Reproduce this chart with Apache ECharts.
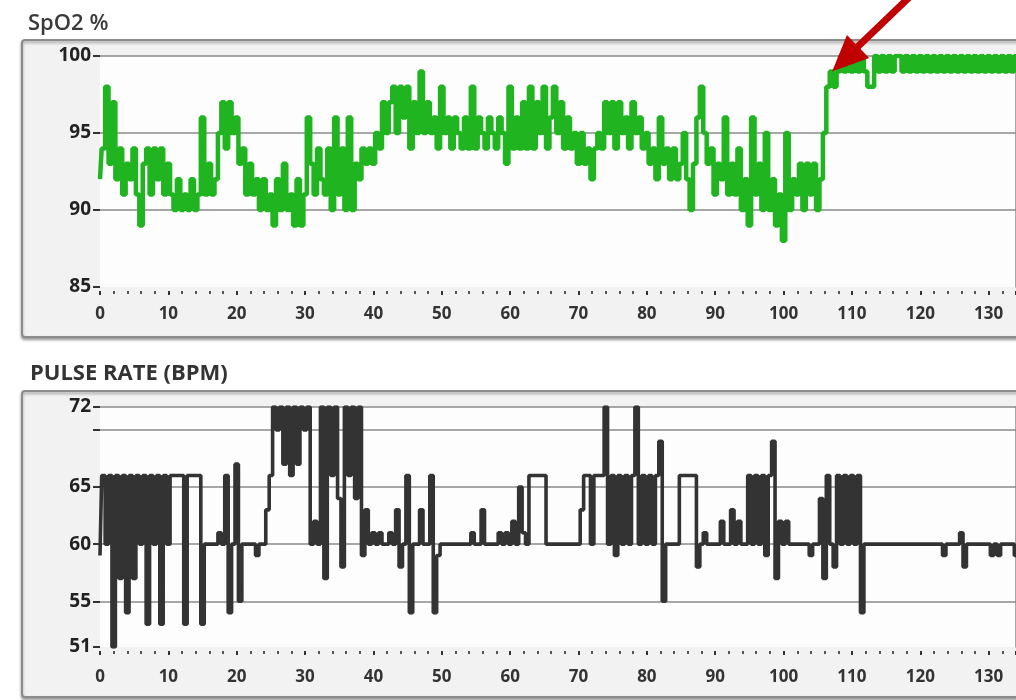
<!DOCTYPE html>
<html>
<head>
<meta charset="utf-8">
<title>SpO2 / Pulse rate</title>
<script src="https://cdn.jsdelivr.net/npm/echarts@6/dist/echarts.min.js"></script>
<style>
  html, body { margin: 0; padding: 0; background: #fff; }
  #chart { width: 1016px; height: 700px; }
</style>
</head>
<body>
<div id="chart"></div>
<script>
// one reading every half unit on the time axis, starting at 0
const sampleStep = 0.5

const spo2Values = [
  92, 94, 98, 93, 97, 92, 94, 91, 93, 92,
  94, 91, 89, 93, 94, 91, 94, 92, 94, 91,
  93, 91, 90, 92, 90, 91, 90, 92, 90, 91,
  96, 91, 93, 91, 92, 95, 97, 94, 97, 95,
  96, 93, 94, 91, 93, 91, 92, 90, 92, 90,
  91, 89, 92, 90, 93, 90, 91, 89, 92, 89,
  91, 96, 93, 91, 94, 92, 91, 94, 90, 96,
  91, 94, 90, 96, 90, 93, 92, 94, 93, 94,
  93, 95, 94, 97, 95, 97, 98, 95, 98, 96,
  98, 94, 97, 95, 99, 95, 97, 95, 96, 94,
  98, 95, 96, 94, 96, 95, 94, 96, 94, 98,
  94, 96, 95, 94, 96, 95, 94, 96, 95, 93,
  98, 94, 96, 94, 97, 94, 98, 94, 97, 95,
  98, 94, 96, 98, 95, 97, 94, 96, 94, 95,
  93, 95, 93, 94, 92, 94, 95, 94, 97, 95,
  97, 94, 97, 95, 96, 94, 97, 95, 96, 94,
  95, 93, 94, 92, 96, 93, 94, 92, 94, 92,
  93, 95, 92, 90, 93, 96, 98, 95, 93, 94,
  91, 93, 92, 96, 91, 93, 91, 94, 90, 92,
  89, 96, 91, 93, 90, 95, 90, 92, 89, 91,
  88, 95, 90, 92, 91, 93, 90, 93, 91, 93,
  90, 92, 95, 98, 99, 98, 99, 100, 99, 100,
  99, 100, 99, 100, 99, 98, 98, 100, 99, 100,
  99, 100, 99, 100, 100, 99, 100, 99, 100, 99,
  100, 99, 100, 99, 100, 99, 100, 99, 100, 99,
  100, 99, 100, 99, 100, 99, 100, 99, 100, 99,
  100, 99, 100, 99, 100, 99, 100, 99, 100
]

const pulseValues = [
  59, 66, 60, 66, 51, 66, 57, 66, 54, 66,
  57, 66, 60, 66, 53, 66, 60, 66, 53, 66,
  60, 66, 66, 66, 66, 53, 66, 66, 66, 66,
  53, 60, 60, 60, 60, 61, 60, 66, 54, 60,
  67, 55, 60, 60, 60, 60, 59, 60, 60, 63,
  66, 72, 70, 72, 67, 72, 66, 72, 67, 72,
  70, 72, 60, 62, 60, 72, 57, 72, 66, 72,
  64, 58, 72, 66, 72, 64, 72, 59, 63, 60,
  61, 60, 61, 60, 60, 61, 60, 63, 58, 60,
  66, 54, 60, 60, 63, 60, 60, 66, 54, 59,
  60, 60, 60, 60, 60, 60, 60, 60, 60, 61,
  60, 60, 63, 60, 60, 60, 60, 61, 60, 61,
  60, 62, 60, 65, 61, 60, 66, 66, 66, 66,
  66, 60, 60, 60, 60, 60, 60, 60, 60, 60,
  60, 63, 66, 66, 60, 66, 66, 66, 72, 60,
  66, 59, 66, 60, 66, 60, 66, 72, 60, 66,
  60, 66, 60, 66, 69, 55, 60, 60, 60, 60,
  66, 66, 66, 66, 66, 58, 60, 61, 60, 60,
  60, 60, 62, 60, 60, 63, 60, 62, 60, 60,
  66, 60, 66, 60, 66, 59, 66, 69, 57, 62,
  60, 62, 60, 60, 60, 60, 60, 60, 59, 60,
  60, 64, 57, 66, 60, 58, 66, 60, 66, 60,
  66, 60, 66, 54, 60, 60, 60, 60, 60, 60,
  60, 60, 60, 60, 60, 60, 60, 60, 60, 60,
  60, 60, 60, 60, 60, 60, 60, 59, 60, 60,
  60, 60, 61, 58, 60, 60, 60, 60, 60, 60,
  60, 59, 60, 59, 60, 60, 60, 60, 59
]

const timeRange = [0, 134]
const spo2Range = [85, 100]
const pulseRange = [51, 72]
const pulseLabels = [51, 55, 60, 65, 72]
const pulseTicks = [51, 55, 60, 65, 70, 72]

// red arrow pointing at the jump in SpO2 (time, %)
const arrowFrom = [121.4, 105.1]
const arrowTo = [107.1, 99.0]

const toPairs = values => values.map((v, i) => [i * sampleStep, v])

const font = 'Open Sans'
const labelStyle = { fontSize: 17, fontWeight: 'bold', color: '#333', fontFamily: font }
const panelStyle = {
  fill: '#f2f2f2', stroke: '#8c8c8c', lineWidth: 2,
  shadowBlur: 3, shadowOffsetY: 2, shadowColor: 'rgba(0,0,0,0.35)'
}

const xAxisFor = (gridIndex, margin) => ({
  type: 'value',
  gridIndex,
  min: timeRange[0],
  max: timeRange[1],
  interval: 10,
  offset: 4,
  axisLine: { show: false },
  axisTick: { show: true, length: 4, lineStyle: { color: '#333', width: 2 } },
  minorTick: { show: true, splitNumber: 5, length: 3, lineStyle: { color: '#555', width: 2 } },
  axisLabel: { ...labelStyle, margin, showMaxLabel: false },
  splitLine: { show: false }
})

// plain axis used only to draw the left edge of the plot
const frameAxis = (gridIndex, range) => ({
  type: 'value',
  gridIndex,
  min: range[0],
  max: range[1],
  axisLine: { show: true, lineStyle: { color: '#8a8a8a', width: 1.5 } },
  axisTick: { show: false },
  axisLabel: { show: false },
  splitLine: { show: false }
})

const chart = echarts.init(document.getElementById('chart'))

const option = {
  animation: false,
  backgroundColor: '#fff',
  graphic: [
    { id: 'panel1', type: 'rect', z: -10,
      shape: { x: 22, y: 40, width: 1010, height: 297, r: 3 }, style: panelStyle },
    { id: 'panel2', type: 'rect', z: -10,
      shape: { x: 22, y: 391, width: 1010, height: 306, r: 3 }, style: panelStyle }
  ],
  title: [
    { text: 'SpO2 %', left: 23, top: 8,
      textStyle: { fontSize: 22, fontWeight: 600, color: '#3a3a3a', fontFamily: font } },
    { text: 'PULSE RATE (BPM)', left: 25, top: 358,
      textStyle: { fontSize: 22, fontWeight: 'bold', color: '#333', fontFamily: font } }
  ],
  grid: [
    { left: 100, top: 56, right: 0, height: 231, show: true, backgroundColor: '#fdfdfd', borderWidth: 0 },
    { left: 100, top: 407, right: 0, height: 240, show: true, backgroundColor: '#fdfdfd', borderWidth: 0 }
  ],
  xAxis: [xAxisFor(0, 15), xAxisFor(1, 18)],
  yAxis: [
    {
      type: 'value',
      gridIndex: 0,
      min: spo2Range[0],
      max: spo2Range[1],
      interval: 5,
      offset: 6,
      axisLine: { show: false },
      axisTick: { show: true, length: 7, lineStyle: { color: '#333', width: 2 } },
      axisLabel: { ...labelStyle, fontSize: 19, color: '#222', margin: 3 },
      splitLine: { show: true, showMinLine: false, lineStyle: { color: '#8a8a8a', width: 1.5 } }
    },
    frameAxis(0, spo2Range),
    {
      type: 'value',
      gridIndex: 1,
      min: pulseRange[0],
      max: pulseRange[1],
      offset: 6,
      axisLine: { show: false },
      axisTick: { show: true, length: 7, customValues: pulseTicks, lineStyle: { color: '#333', width: 2 } },
      axisLabel: { ...labelStyle, fontSize: 19, color: '#222', margin: 3, customValues: pulseLabels },
      splitLine: { show: true, showMinLine: false, lineStyle: { color: '#8a8a8a', width: 1.5 } }
    },
    frameAxis(1, pulseRange)
  ],
  series: [
    {
      name: 'SpO2',
      type: 'line',
      xAxisIndex: 0,
      yAxisIndex: 0,
      step: 'middle',
      showSymbol: false,
      lineStyle: { color: '#20b420', width: 4.5 },
      itemStyle: { color: '#20b420' },
      data: toPairs(spo2Values)
    },
    {
      name: 'Pulse rate',
      type: 'line',
      xAxisIndex: 1,
      yAxisIndex: 2,
      step: 'middle',
      showSymbol: false,
      lineStyle: { color: '#333', width: 3.6 },
      itemStyle: { color: '#333' },
      data: toPairs(pulseValues)
    }
  ]
}

chart.setOption(option)

// annotation arrow, placed from data coordinates (tail lies above the plot)
const drawArrow = () => {
  const tip = chart.convertToPixel({ seriesIndex: 0 }, arrowTo)
  const tail = chart.convertToPixel({ seriesIndex: 0 }, arrowFrom)
  const dx = tip[0] - tail[0]
  const dy = tip[1] - tail[1]
  const len = Math.hypot(dx, dy)
  const ux = dx / len, uy = dy / len
  const headLen = 36, headHalf = 16
  const bx = tip[0] - ux * headLen, by = tip[1] - uy * headLen
  chart.setOption({
    graphic: [
      { id: 'arrowShaft', type: 'line', z: 100,
        shape: { x1: tail[0], y1: tail[1], x2: bx + ux * 2, y2: by + uy * 2 },
        style: { stroke: '#c00000', lineWidth: 7 } },
      { id: 'arrowHead', type: 'polygon', z: 100,
        shape: { points: [tip, [bx - uy * headHalf, by + ux * headHalf], [bx + uy * headHalf, by - ux * headHalf]] },
        style: { fill: '#c00000' } }
    ]
  })
}
drawArrow()

window.addEventListener('resize', () => { chart.resize(); drawArrow() })
</script>
</body>
</html>
